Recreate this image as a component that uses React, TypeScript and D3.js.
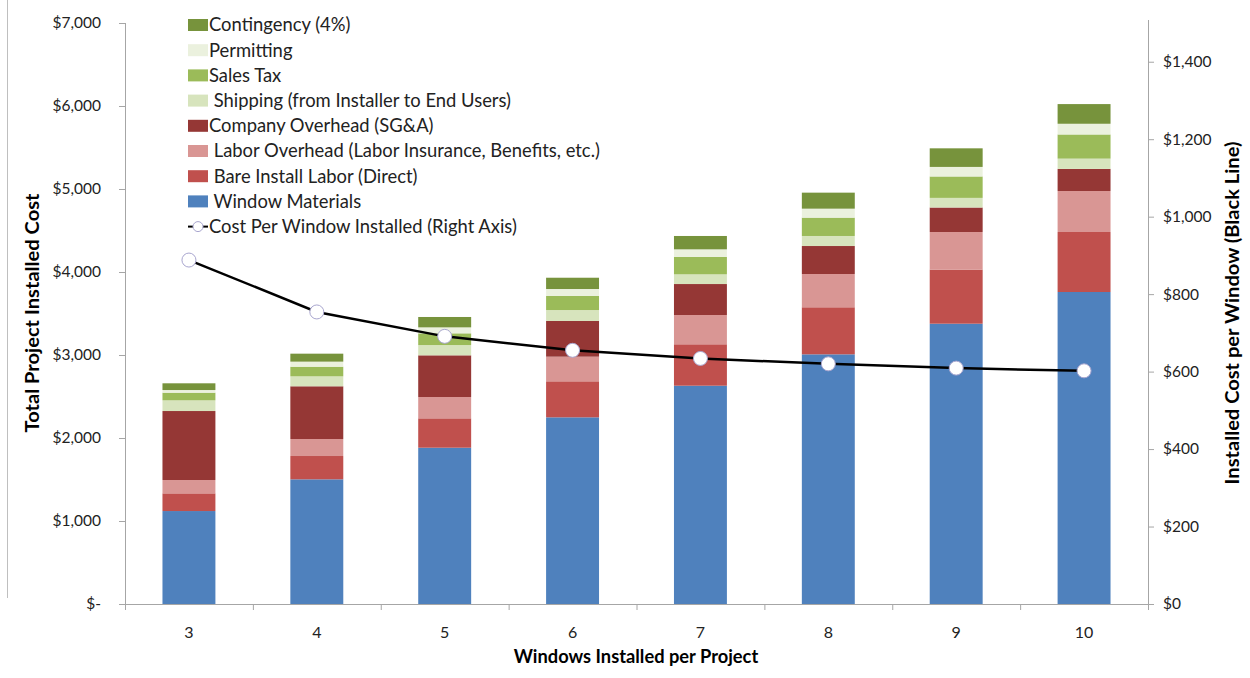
import React from "react";
import * as d3 from "d3";

// Windows installed per project (x categories)
const categories = ["3", "4", "5", "6", "7", "8", "9", "10"];

// Cost components per project, in dollars (stacked bottom to top)
const windowMaterials = [1120, 1502, 1883, 2249, 2630, 3008, 3377, 3759];
const bareInstallLabor = [213, 281, 354, 434, 499, 567, 652, 723];
const laborOverhead = [161, 205, 257, 297, 353, 401, 453, 494];
const companyOverhead = [831, 635, 502, 430, 373, 337, 295, 266];
const shipping = [129, 120, 124, 132, 117, 121, 116, 124];
const salesTax = [92, 116, 141, 169, 209, 221, 258, 291];
const permitting = [32, 61, 72, 84, 92, 108, 115, 129];
const contingency = [81, 96, 125, 136, 161, 193, 224, 237];

// Cost per window installed (right axis)
const costPerWindow = [888, 754, 691, 655, 634, 620, 609, 602];

const leftTicks = [0, 1000, 2000, 3000, 4000, 5000, 6000, 7000];
const rightTicks = [0, 200, 400, 600, 800, 1000, 1200, 1400];

const seriesNames = [
  "Window Materials",
  "Bare Install Labor (Direct)",
  "Labor Overhead (Labor Insurance, Benefits, etc.)",
  "Company Overhead (SG&A)",
  "Shipping (from Installer to End Users)",
  "Sales Tax",
  "Permitting",
  "Contingency (4%)",
];
const legendLabels = [
  " Window Materials",
  " Bare Install Labor (Direct)",
  " Labor Overhead (Labor Insurance, Benefits, etc.)",
  "Company Overhead (SG&A)",
  " Shipping (from Installer to End Users)",
  "Sales Tax",
  "Permitting",
  "Contingency (4%)",
];
const seriesColors = [
  "#4F81BD",
  "#C0504D",
  "#D99694",
  "#953735",
  "#D7E4BD",
  "#9BBB59",
  "#EBF1DE",
  "#77933C",
];
const lineLabel = "Cost Per Window Installed (Right Axis)";

const W = 1250;
const H = 678;
const FONT = "Lato, 'Open Sans', sans-serif";

export default function App() {
  const x = d3
    .scaleBand<string>()
    .domain(categories)
    .range([125, 1148])
    .paddingInner(0.586)
    .paddingOuter(0.293);
  const yL = d3.scaleLinear().domain([0, 7000]).range([604, 23]);
  const yR = d3.scaleLinear().domain([0, 1500]).range([604, 23]);

  const seriesData = [
    windowMaterials,
    bareInstallLabor,
    laborOverhead,
    companyOverhead,
    shipping,
    salesTax,
    permitting,
    contingency,
  ];
  const rows = categories.map((c, i) => {
    const r: Record<string, number | string> = { cat: c };
    seriesNames.forEach((n, k) => (r[n] = seriesData[k][i]));
    return r;
  });
  const stacked = d3.stack<any>().keys(seriesNames)(rows);

  const linePath = d3
    .line<number>()
    .x((_, i) => (x(categories[i]) as number) + x.bandwidth() / 2)
    .y((d) => yR(d))(costPerWindow);

  const step = x.step();
  const boundaries = d3.range(categories.length + 1).map((k) => 125 + k * step);

  const fmtLeft = (v: number) => (v === 0 ? "$-" : "$" + d3.format(",")(v));
  const fmtRight = (v: number) => "$" + d3.format(",")(v);

  // legend: top item is the last series, then the line entry last
  const legendOrder = d3.range(seriesNames.length).reverse();
  const legX = 188;
  const legY0 = 25;
  const legStep = 25.2;

  return (
    <svg
      width={W}
      height={H}
      style={{ position: "absolute", left: 0, top: 0, background: "#fff" }}
      fontFamily={FONT}
    >
      <rect x={0} y={0} width={W} height={H} fill="#fff" />
      <line x1={7.5} x2={7.5} y1={0} y2={598} stroke="#bfbfbf" strokeWidth={1} />

      {/* stacked bars */}
      {stacked.map((s, k) => (
        <g key={s.key} fill={seriesColors[k]}>
          {s.map((d, i) => (
            <rect
              key={i}
              x={x(categories[i])}
              width={x.bandwidth()}
              y={yL(d[1])}
              height={yL(d[0]) - yL(d[1])}
            />
          ))}
        </g>
      ))}

      {/* left axis */}
      <line x1={125.5} x2={125.5} y1={23} y2={604} stroke="#a6a6a6" />
      {leftTicks.map((t) => (
        <g key={t}>
          <line x1={119} x2={125} y1={yL(t) + 0.5} y2={yL(t) + 0.5} stroke="#a6a6a6" />
          <text
            x={101}
            y={yL(t)}
            dy="0.35em"
            textAnchor="end"
            fontSize={15.5}
            fill="#222"
          >
            {fmtLeft(t)}
          </text>
        </g>
      ))}

      {/* right axis */}
      <line x1={1148.5} x2={1148.5} y1={20} y2={604} stroke="#a6a6a6" />
      {rightTicks.map((t) => (
        <g key={t}>
          <line x1={1148} x2={1154} y1={yR(t) + 0.5} y2={yR(t) + 0.5} stroke="#a6a6a6" />
          <text x={1163} y={yR(t)} dy="0.35em" fontSize={15.5} fill="#222">
            {fmtRight(t)}
          </text>
        </g>
      ))}

      {/* x axis */}
      <line x1={120} x2={1153} y1={604.5} y2={604.5} stroke="#a6a6a6" />
      {boundaries.map((b, k) => (
        <line key={k} x1={b + 0.5} x2={b + 0.5} y1={604} y2={610} stroke="#a6a6a6" />
      ))}
      {categories.map((c) => (
        <text
          key={c}
          x={(x(c) as number) + x.bandwidth() / 2}
          y={632}
          dy="0.35em"
          textAnchor="middle"
          fontSize={16}
          fill="#222"
        >
          {c}
        </text>
      ))}

      {/* cost per window line */}
      <path d={linePath || ""} fill="none" stroke="#000" strokeWidth={2.5} />
      {costPerWindow.map((v, i) => (
        <circle
          key={i}
          cx={(x(categories[i]) as number) + x.bandwidth() / 2}
          cy={yR(v)}
          r={7}
          fill="#fff"
          stroke="#a9a6cf"
          strokeWidth={1}
        />
      ))}

      {/* axis titles */}
      <text
        x={636}
        y={657}
        dy="0.35em"
        textAnchor="middle"
        fontSize={18.3}
        fontWeight="bold"
        fill="#000"
      >
        Windows Installed per Project
      </text>
      <text
        transform={`translate(33,313) rotate(-90)`}
        dy="0.35em"
        textAnchor="middle"
        fontSize={18.5}
        fontWeight="bold"
        fill="#000"
        textLength={239}
        lengthAdjust="spacingAndGlyphs"
      >
        Total Project Installed Cost
      </text>
      <text
        transform={`translate(1233,313) rotate(-90)`}
        dy="0.35em"
        textAnchor="middle"
        fontSize={18.5}
        fontWeight="bold"
        fill="#000"
        textLength={343}
        lengthAdjust="spacingAndGlyphs"
      >
        Installed Cost per Window (Black Line)
      </text>

      {/* legend */}
      {legendOrder.map((k, j) => {
        const cy = legY0 + j * legStep;
        return (
          <g key={seriesNames[k]}>
            <rect x={legX} y={cy - 6} width={20} height={12} fill={seriesColors[k]} />
            <text
              x={legX + 21}
              y={cy}
              dy="0.35em"
              fontSize={18.4}
              fill="#222"
              style={{ whiteSpace: "pre" }}
            >
              {legendLabels[k]}
            </text>
          </g>
        );
      })}
      {(() => {
        const cy = legY0 + seriesNames.length * legStep;
        return (
          <g>
            <line x1={legX} x2={legX + 20} y1={cy} y2={cy} stroke="#000" strokeWidth={2} />
            <circle cx={legX + 10} cy={cy} r={5} fill="#fff" stroke="#a9a6cf" />
            <text x={legX + 21} y={cy} dy="0.35em" fontSize={18.4} fill="#222">
              {lineLabel}
            </text>
          </g>
        );
      })()}
    </svg>
  );
}
